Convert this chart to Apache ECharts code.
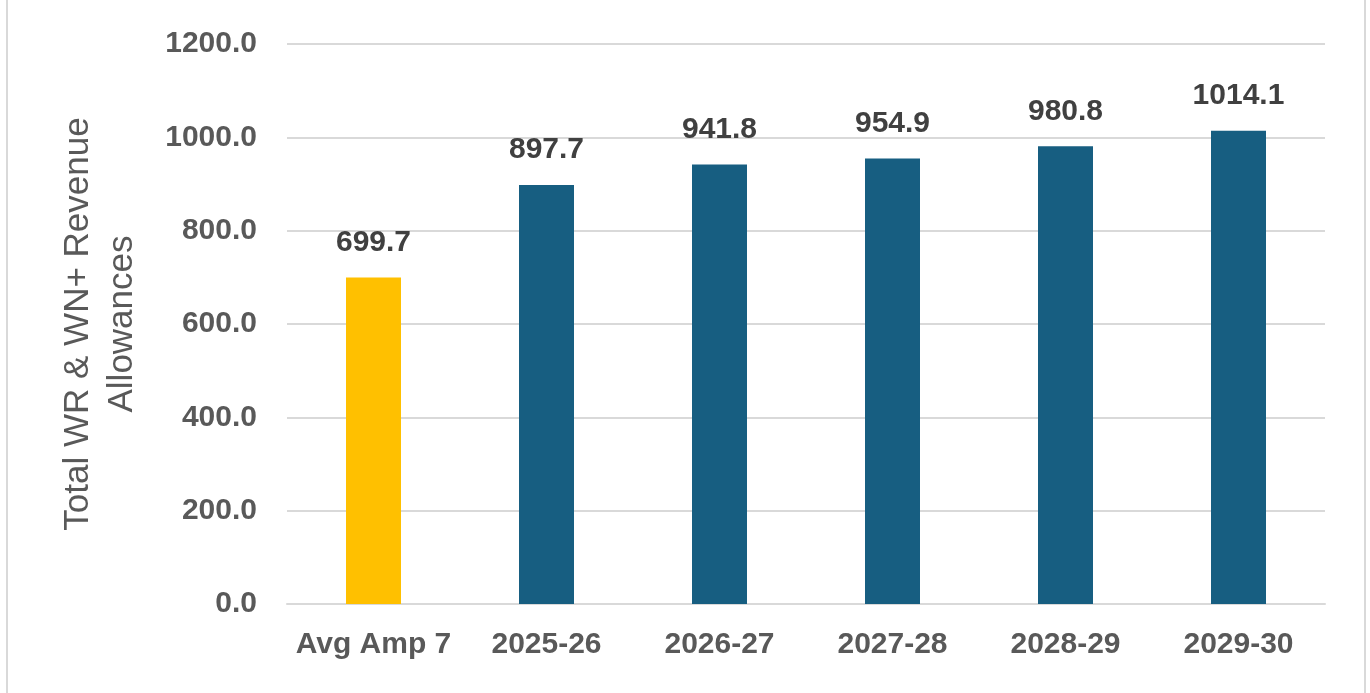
<!DOCTYPE html>
<html>
<head>
<meta charset="utf-8">
<script src="https://cdn.jsdelivr.net/npm/echarts@6/dist/echarts.min.js"></script>
<style>
  html, body { margin: 0; padding: 0; background: #fff; }
  #chart { width: 1370px; height: 693px; }
</style>
</head>
<body>
<div id="chart"></div>
<script>
// categories and values
var categories = ['Avg Amp 7', '2025-26', '2026-27', '2027-28', '2028-29', '2029-30'];
var values = [699.7, 897.7, 941.8, 954.9, 980.8, 1014.1];
var barColors = ['#FFC000', '#175E81', '#175E81', '#175E81', '#175E81', '#175E81'];
var yTicks = { min: 0, max: 1200, interval: 200 };

var chart = echarts.init(document.getElementById('chart'));

var barData = [];
for (var i = 0; i < values.length; i++) {
    barData.push({ value: values[i], itemStyle: { color: barColors[i] } });
}

var option = {
    backgroundColor: '#fff',
    animation: false,
    textStyle: { fontFamily: 'Liberation Sans, Arial, sans-serif' },
    grid: { left: 287, right: 45, top: 44, bottom: 89 },
    // outer frame (left / right edges are visible in the picture)
    graphic: [
        { type: 'line', shape: { x1: 7, y1: 0, x2: 7, y2: 693 }, style: { stroke: '#d9d9d9', lineWidth: 2 } },
        { type: 'line', shape: { x1: 1365, y1: 0, x2: 1365, y2: 693 }, style: { stroke: '#d9d9d9', lineWidth: 2 } }
    ],
    xAxis: {
        type: 'category',
        data: categories,
        axisLine: { show: true, lineStyle: { color: '#d9d9d9', width: 2 } },
        axisTick: { show: false },
        axisLabel: { interval: 0, color: '#595959', fontSize: 30, fontWeight: 'bold', margin: 26 }
    },
    yAxis: {
        type: 'value',
        min: yTicks.min,
        max: yTicks.max,
        interval: yTicks.interval,
        name: 'Total WR & WN+ Revenue\nAllowances',
        nameLocation: 'middle',
        nameGap: 143,
        nameRotate: 90,
        nameTextStyle: { color: '#595959', fontSize: 35, lineHeight: 44 },
        axisLine: { show: false },
        axisTick: { show: false },
        splitLine: { lineStyle: { color: '#d9d9d9', width: 2 } },
        axisLabel: {
            color: '#595959', fontSize: 30, fontWeight: 'bold', margin: 30,
            formatter: function (v) { return v.toFixed(1); }
        }
    },
    series: [{
        type: 'bar',
        data: barData,
        barWidth: 55,
        label: {
            show: true,
            position: 'top',
            distance: 20,
            color: '#404040',
            fontSize: 30,
            fontWeight: 'bold',
            formatter: function (p) { return p.value.toFixed(1); }
        }
    }]
};

chart.setOption(option);
</script>
</body>
</html>
